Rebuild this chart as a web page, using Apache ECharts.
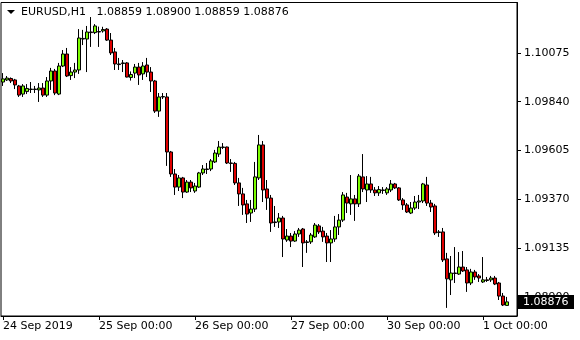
<!DOCTYPE html>
<html>
<head>
<meta charset="utf-8">
<script src="https://cdn.jsdelivr.net/npm/echarts@6/dist/echarts.min.js"></script>
<style>
html,body{margin:0;padding:0;background:#fff;}
#chart{width:580px;height:340px;}
</style>
</head>
<body>
<div id="chart"></div>
<script>
// Hourly EURUSD candles [open, close, low, high], 24 Sep 2019 00:00 onward
const candles = [
[1.09935,1.09950,1.09916,1.09978],[1.09945,1.09954,1.09940,1.09964],[1.09952,1.09940,1.09930,1.09957],[1.09945,1.09921,1.09901,1.09950],
[1.09916,1.09872,1.09863,1.09921],[1.09877,1.09916,1.09863,1.09925],[1.09889,1.09904,1.09877,1.09925],[1.09899,1.09901,1.09882,1.09935],
[1.09901,1.09899,1.09882,1.09916],[1.09897,1.09906,1.09839,1.09930],[1.09906,1.09872,1.09863,1.09930],[1.09872,1.09940,1.09863,1.09959],
[1.09940,1.09988,1.09897,1.10003],[1.09988,1.09882,1.09872,1.09998],[1.09877,1.10012,1.09872,1.10027],[1.10012,1.10070,1.10007,1.10089],
[1.10070,1.09964,1.09959,1.10099],[1.09966,1.09983,1.09945,1.10007],[1.09983,1.09993,1.09954,1.10027],[1.09993,1.10147,1.09974,1.10190],
[1.10142,1.10145,1.10113,1.10186],[1.10142,1.10176,1.09983,1.10205],[1.10176,1.10173,1.10104,1.10248],[1.10173,1.10205,1.10166,1.10214],
[1.10178,1.10176,1.10104,1.10202],[1.10181,1.10188,1.10173,1.10201],[1.10190,1.10137,1.10133,1.10195],[1.10137,1.10075,1.10065,1.10171],
[1.10080,1.10022,1.09993,1.10099],[1.10022,1.10019,1.09993,1.10051],[1.10024,1.10027,1.09983,1.10041],[1.10027,1.09959,1.09957,1.10031],
[1.09957,1.09971,1.09942,1.09986],[1.09978,1.10007,1.09954,1.10022],[1.10007,1.09969,1.09921,1.10027],[1.09974,1.10012,1.09945,1.10031],
[1.10017,1.09983,1.09959,1.10051],[1.09983,1.09940,1.09887,1.10007],[1.09940,1.09795,1.09786,1.09945],[1.09795,1.09863,1.09767,1.09882],
[1.09863,1.09865,1.09853,1.09882],[1.09863,1.09598,1.09531,1.09882],[1.09598,1.09492,1.09478,1.09603],[1.09492,1.09429,1.09391,1.09516],
[1.09429,1.09473,1.09410,1.09487],[1.09473,1.09405,1.09376,1.09478],[1.09405,1.09453,1.09401,1.09463],[1.09453,1.09425,1.09405,1.09463],
[1.09410,1.09434,1.09401,1.09449],[1.09429,1.09497,1.09425,1.09502],[1.09497,1.09516,1.09487,1.09535],[1.09516,1.09514,1.09492,1.09545],
[1.09516,1.09555,1.09506,1.09564],[1.09550,1.09593,1.09545,1.09608],[1.09588,1.09622,1.09574,1.09651],[1.09620,1.09622,1.09612,1.09641],
[1.09622,1.09545,1.09540,1.09624],[1.09545,1.09543,1.09502,1.09564],[1.09543,1.09449,1.09439,1.09550],[1.09449,1.09396,1.09338,1.09473],
[1.09396,1.09343,1.09295,1.09425],[1.09348,1.09299,1.09256,1.09367],[1.09304,1.09323,1.09261,1.09367],[1.09323,1.09478,1.09309,1.09550],
[1.09473,1.09632,1.09463,1.09680],[1.09632,1.09415,1.09357,1.09651],[1.09420,1.09376,1.09319,1.09463],[1.09376,1.09256,1.09213,1.09391],
[1.09261,1.09258,1.09237,1.09338],[1.09261,1.09280,1.09232,1.09304],[1.09280,1.09179,1.09092,1.09290],[1.09174,1.09193,1.09165,1.09227],
[1.09193,1.09169,1.09140,1.09208],[1.09169,1.09203,1.09165,1.09217],[1.09203,1.09222,1.09189,1.09232],[1.09227,1.09160,1.09044,1.09232],
[1.09162,1.09165,1.09112,1.09174],[1.09165,1.09198,1.09155,1.09208],[1.09189,1.09246,1.09184,1.09256],[1.09242,1.09213,1.09203,1.09251],
[1.09217,1.09189,1.09165,1.09237],[1.09193,1.09160,1.09068,1.09208],[1.09160,1.09179,1.09068,1.09222],[1.09179,1.09237,1.09165,1.09290],
[1.09237,1.09270,1.09198,1.09299],[1.09270,1.09391,1.09261,1.09405],[1.09381,1.09352,1.09304,1.09401],[1.09348,1.09372,1.09295,1.09487],
[1.09372,1.09348,1.09266,1.09391],[1.09348,1.09482,1.09333,1.09492],[1.09478,1.09420,1.09405,1.09588],[1.09415,1.09444,1.09357,1.09482],
[1.09444,1.09415,1.09401,1.09478],[1.09415,1.09401,1.09386,1.09429],[1.09401,1.09417,1.09386,1.09434],[1.09415,1.09413,1.09396,1.09429],
[1.09401,1.09420,1.09391,1.09429],[1.09415,1.09444,1.09405,1.09463],[1.09444,1.09425,1.09420,1.09449],[1.09425,1.09367,1.09362,1.09429],
[1.09367,1.09343,1.09319,1.09376],[1.09343,1.09309,1.09304,1.09352],[1.09304,1.09328,1.09299,1.09357],[1.09328,1.09357,1.09319,1.09386],
[1.09357,1.09362,1.09323,1.09391],[1.09362,1.09444,1.09352,1.09449],[1.09439,1.09352,1.09338,1.09478],[1.09352,1.09333,1.09309,1.09367],
[1.09338,1.09208,1.09198,1.09348],[1.09210,1.09213,1.09189,1.09222],[1.09213,1.09078,1.09068,1.09232],[1.09083,1.08987,1.08847,1.09112],
[1.08982,1.09015,1.08909,1.09097],[1.09015,1.09013,1.08967,1.09140],[1.09010,1.09044,1.09006,1.09116],[1.09044,1.09025,1.09020,1.09121],
[1.09030,1.08967,1.08924,1.09044],[1.08967,1.09020,1.08957,1.09035],[1.09020,1.08996,1.08982,1.09030],[1.09001,1.08991,1.08972,1.09010],
[1.08972,1.08982,1.08967,1.09092],[1.08982,1.08979,1.08972,1.08996],[1.08982,1.08991,1.08972,1.09001],[1.08991,1.08962,1.08957,1.09001],
[1.08967,1.08904,1.08885,1.08972],[1.08904,1.08861,1.08856,1.08919],[1.08859,1.08876,1.08859,1.08900]
];
const days = ['24 Sep','25 Sep','26 Sep','27 Sep','30 Sep','1 Oct'];
const year = '2019';
const yTicks = [1.08900, 1.09135, 1.09370, 1.09605, 1.09840, 1.10075];
const symbol = 'EURUSD,H1';
const emptySlots = 2;

const categories = [];
for (const d of days) {
  for (let h = 0; h < 24 && categories.length < candles.length; h++) {
    categories.push(d + ' ' + String(h).padStart(2, '0') + ':00');
  }
}
for (let i = 0; i < emptySlots; i++) categories.push('');

const last = candles[candles.length - 1];
// header shows O H L C
const header = symbol + '   ' + [last[0], last[3], last[2], last[1]].map(v => v.toFixed(5)).join(' ');

const FONT = 'DejaVu Sans';
const showIdx = (i) => i % 24 === 0 && i < candles.length;

const chart = echarts.init(document.getElementById('chart'), null, {renderer: 'canvas'});
chart.setOption({
  animation: false,
  backgroundColor: '#ffffff',
  grid: {left: 1, top: 2.5, width: 516, height: 313.5, show: true, borderColor: '#000', borderWidth: 1, backgroundColor: 'transparent'},
  graphic: [
    {type: 'polygon', shape: {points: [[7, 10], [15, 10], [11, 14]]}, style: {fill: '#000'}, z: 10},
    {type: 'text', left: 21, top: 7, style: {text: header, font: '11px "DejaVu Sans"', fill: '#000'}, z: 10}
  ],
  xAxis: {
    type: 'category',
    data: categories,
    boundaryGap: true,
    axisLine: {lineStyle: {color: '#000', width: 1}},
    axisTick: {show: true, alignWithLabel: true, interval: showIdx, length: 4, lineStyle: {color: '#000'}},
    axisLabel: {
      interval: showIdx, align: 'left', margin: 5, color: '#000', fontFamily: FONT, fontSize: 11,
      formatter: (v, i) => i === 0 ? v.split(' ').slice(0, 2).join(' ') + ' ' + year : v
    },
    splitLine: {show: false}
  },
  yAxis: {
    type: 'value',
    position: 'right',
    min: 1.08808,
    max: 1.10318,
    scale: true,
    axisLine: {show: true, lineStyle: {color: '#000', width: 1}},
    axisTick: {show: true, length: 4, customValues: yTicks, lineStyle: {color: '#000'}},
    axisLabel: {customValues: yTicks, margin: 7, color: '#000', fontFamily: FONT, fontSize: 11, formatter: v => v.toFixed(5)},
    splitLine: {show: false}
  },
  series: [{
    type: 'candlestick',
    data: candles,
    barWidth: 3,
    itemStyle: {
      color: '#7CFC00', color0: '#E00000',
      borderColor: '#000', borderColor0: '#000', borderColorDoji: '#000',
      borderWidth: 1
    }
  }]
});

// current-price box on the price scale, placed through the axis scale
const lastY = chart.convertToPixel({yAxisIndex: 0}, last[1]);
chart.setOption({
  graphic: [
    {type: 'polygon', shape: {points: [[7, 10], [15, 10], [11, 14]]}, style: {fill: '#000'}, z: 10},
    {type: 'text', left: 21, top: 7, style: {text: header, font: '11px "DejaVu Sans"', fill: '#000'}, z: 10},
    {type: 'rect', shape: {x: 518, y: Math.round(lastY) - 7, width: 56, height: 14}, style: {fill: '#000'}, z: 20},
    {type: 'text', x: 523, y: Math.round(lastY) + 0.5, style: {text: last[1].toFixed(5), font: '11px "DejaVu Sans"', fill: '#fff', verticalAlign: 'middle', align: 'left'}, z: 21}
  ]
}, {replaceMerge: ['graphic']});
</script>
</body>
</html>
